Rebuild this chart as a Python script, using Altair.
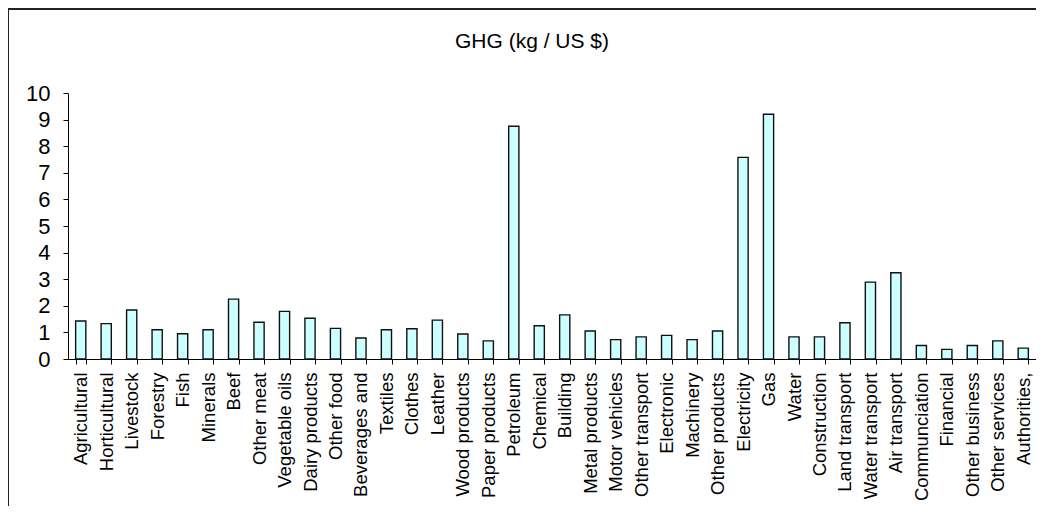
import altair as alt
import pandas as pd

sectors = [
    "Agricultural", "Horticultural", "Livestock", "Forestry", "Fish", "Minerals",
    "Beef", "Other meat", "Vegetable oils", "Dairy products", "Other food",
    "Beverages and", "Textiles", "Clothes", "Leather", "Wood products",
    "Paper products", "Petroleum", "Chemical", "Building", "Metal products",
    "Motor vehicles", "Other transport", "Electronic", "Machinery",
    "Other products", "Electricity", "Gas", "Water", "Construction",
    "Land transport", "Water transport", "Air transport", "Communciation",
    "Financial", "Other business", "Other services", "Authorities,",
]
ghg = [
    1.43, 1.33, 1.84, 1.10, 0.95, 1.10,
    2.25, 1.38, 1.79, 1.53, 1.15,
    0.79, 1.10, 1.14, 1.46, 0.94,
    0.68, 8.75, 1.25, 1.66, 1.05,
    0.73, 0.83, 0.89, 0.73,
    1.05, 7.58, 9.20, 0.83, 0.83,
    1.36, 2.89, 3.24, 0.51,
    0.36, 0.51, 0.68, 0.41,
]
y_ticks = list(range(0, 11))
title_text = "GHG (kg / US $)"

df = pd.DataFrame({"sector": sectors, "ghg": ghg})

FONT = "Liberation Sans"
W, H = 968, 266

bars = alt.Chart(df).mark_bar(
    fill="#CCFFFF", stroke="#111111", strokeWidth=1.4
).encode(
    x=alt.X(
        "sector:N", sort=sectors, title=None,
        scale=alt.Scale(paddingInner=0.6, paddingOuter=0.3),
        axis=alt.Axis(
            labelAngle=270, labelAlign="right", labelBaseline="middle",
            labelFontSize=18.5, labelFont=FONT, labelColor="black",
            labelPadding=8, tickBand="extent", tickSize=5, grid=False,
            tickColor="black", domainColor="black", labelOverlap=False,
            labelLimit=0,
        ),
    ),
    y=alt.Y(
        "ghg:Q", title=None,
        scale=alt.Scale(domain=[0, 10], nice=False),
        axis=alt.Axis(
            values=y_ticks, grid=False, labelFontSize=22, labelFont=FONT,
            labelColor="black", labelPadding=13, tickSize=5,
            tickColor="black", domainColor="black",
        ),
    ),
)

frame = alt.Chart(pd.DataFrame({"a": [0]})).mark_rect(
    filled=False, stroke="#222222", strokeWidth=2, clip=False
).encode(
    x=alt.value(-60), x2=alt.value(W + 200),
    y=alt.value(-84), y2=alt.value(H + 300),
)

title = alt.Chart(pd.DataFrame({"t": [title_text]})).mark_text(
    font=FONT, fontSize=21, color="black", align="center",
    baseline="alphabetic",
).encode(
    text="t:N", x=alt.value(464), y=alt.value(-45),
)

chart = alt.layer(frame, bars, title).properties(
    width=W, height=H,
    background="white",
    view=alt.ViewBackground(stroke="transparent", strokeWidth=0),
    autosize=alt.AutoSizeParams(type="none"),
    padding={"left": 60, "top": 85, "right": 0, "bottom": 147},
).configure_view(strokeWidth=0, stroke="transparent").configure_axis(grid=False)

chart.save("out.html", embed_options={"renderer": "svg", "actions": False})
